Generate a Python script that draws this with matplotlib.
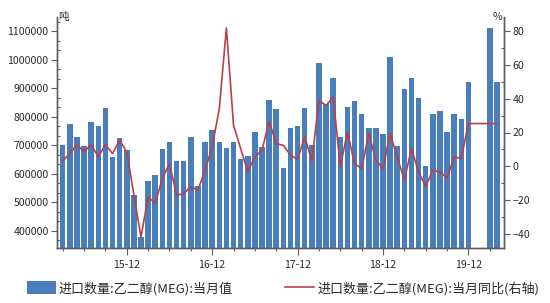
import numpy as np
import pandas as pd
import matplotlib
matplotlib.use('Agg')
import matplotlib.pyplot as plt
from matplotlib.ticker import AutoMinorLocator, FixedLocator, FuncFormatter
from matplotlib.patches import Patch
from matplotlib.lines import Line2D

plt.rcParams['font.family'] = ['Noto Sans CJK SC', 'DejaVu Sans']

# monthly data, 2015-03 .. 2020-04 (Jan/Feb 2020 missing)
months = pd.period_range('2015-03', '2020-04', freq='M')

# 进口数量 (吨)
volume = [700000, 774500, 729000, 698500, 780500, 769000, 830500, 660000, 727000, 682000,
          526000, 380000, 576000, 596000, 688000, 711500, 645000, 645000, 730500, 557500, 712500, 752500,
          710000, 691500, 712500, 652000, 662500, 747500, 695000, 858500, 827000, 621500, 760500, 768500,
          830500, 700000, 990000, 843500, 934500, 729000, 833000, 856000, 808500, 761500, 761500, 738500,
          1010000, 698500, 898000, 936500, 866500, 626500, 810500, 821000, 746500, 808500, 793000, 920500,
          np.nan, np.nan, 1113000, 920500]

# 当月同比 (%)
yoy = [3.2, 7.5, 12.8, 8.5, 12.8, 5.5, 12.8, 7.5, 15.4, 8.5,
       -17.0, -42.0, -18.2, -22.0, -7.3, 1.6, -17.2, -16.2, -12.2, -14.2, -2.4, 11.5,
       34.0, 82.0, 24.3, 10.5, -3.0, 5.5, 9.5, 26.7, 13.4, 12.4, 6.5, 4.1,
       17.4, 3.2, 39.0, 36.0, 41.0, -0.4, 20.3, 1.6, -1.4, 19.4, 3.6, -1.4,
       19.4, 5.5, -8.3, 10.5, -3.4, -12.0, -2.4, -3.4, -6.9, 5.5, 4.6, 25.3,
       np.nan, np.nan, 25.3, 25.3]

bar_color = '#4a7ebb'
line_color = '#b8404c'
axis_color = '#5e5e5e'
text_color = '#2b2b2b'

x = np.arange(len(months))
yoy_arr = np.array(yoy)
ok = ~np.isnan(yoy_arr)

fig = plt.figure(figsize=(5.5, 3.03), dpi=100)
ax = fig.add_axes([57/550, 1-248/303, (504-57)/550, (248-17)/303])
ax.bar(x, volume, width=0.78, color=bar_color, zorder=2)
ax.set_xlim(-0.8, 62.0)
ax.set_ylim(340000, 1150000)
ax.set_yticks(range(400000, 1100001, 100000))
ax.yaxis.set_major_formatter(FuncFormatter(lambda v, p: f'{int(v)}'))
ax.yaxis.set_minor_locator(AutoMinorLocator(3))

# x ticks: every quarter, labelled in December
dec = x[months.month == 12]
qtr = x[months.month % 3 == 0]
ax.xaxis.set_major_locator(FixedLocator(dec))
ax.xaxis.set_minor_locator(FixedLocator(qtr))
ax.set_xticklabels(months[months.month == 12].strftime('%y-%m'))

ax2 = ax.twinx()
ax2.plot(x[ok], yoy_arr[ok], color=line_color, lw=1.2)
ax2.set_ylim(-48.5, 88.5)
ax2.set_yticks(range(-40, 81, 20))
ax2.yaxis.set_minor_locator(AutoMinorLocator(2))

for a in (ax, ax2):
    a.spines['top'].set_visible(False)
    for s in ('left', 'right', 'bottom'):
        a.spines[s].set_color(axis_color)
        a.spines[s].set_linewidth(1.0)
    a.tick_params(axis='y', which='major', direction='out', length=4, width=0.8,
                  color=axis_color, labelsize=7.6, labelcolor=text_color, pad=2)
    a.tick_params(axis='y', which='minor', direction='in', length=2.5, width=0.8, color=axis_color)
ax.tick_params(axis='x', which='major', direction='out', length=5, width=0.8,
               color=axis_color, labelsize=7.6, labelcolor=text_color, pad=4)
ax.tick_params(axis='x', which='minor', direction='out', length=2.5, width=0.8, color=axis_color)

fig.text(58.5/550, 1-17/303, '吨', fontsize=7.6, color=text_color, ha='left', va='center')
fig.text(502/550, 1-17/303, '%', fontsize=7.6, color=text_color, ha='right', va='center')

handles = [Patch(facecolor=bar_color), Line2D([], [], color=line_color, lw=1.2)]
labels = ['进口数量:乙二醇(MEG):当月值', '进口数量:乙二醇(MEG):当月同比(右轴)']
fig.legend(handles, labels, loc='center left', bbox_to_anchor=(27/550, 1-288/303), ncol=2,
           frameon=False, fontsize=9.4, handlelength=2.2, handleheight=1.2,
           handletextpad=0.25, columnspacing=4.0, borderpad=0, borderaxespad=0,
           labelcolor=text_color)

fig.savefig('out.png', dpi=100)
